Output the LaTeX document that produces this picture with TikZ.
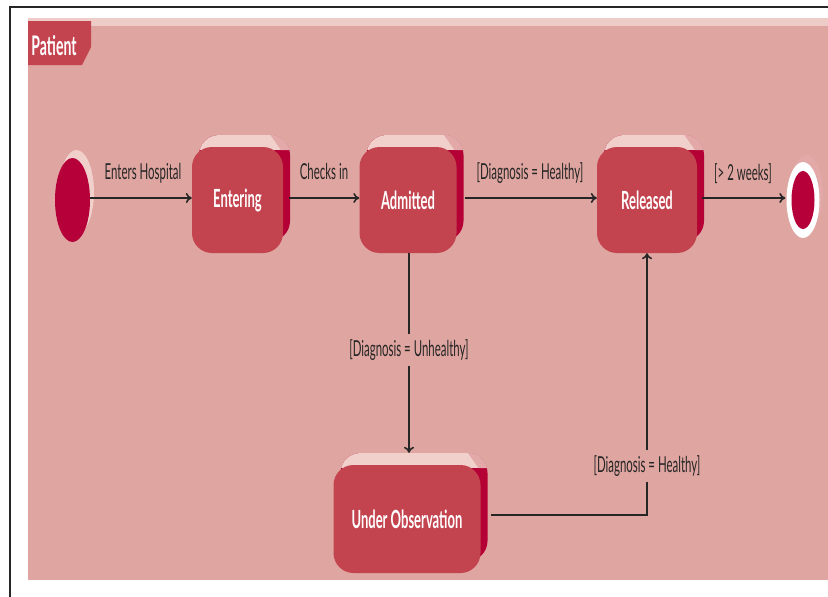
\documentclass[tikz,border=0pt]{standalone}
\usepackage{fontspec}
\setmainfont{Lato}[FakeStretch=0.52]
\usetikzlibrary{arrows.meta,shapes.geometric}

\definecolor{panelpink}{HTML}{DFA5A0}
\definecolor{panellight}{HTML}{EECDC8}
\definecolor{boxred}{HTML}{C3444F}
\definecolor{sidedark}{HTML}{B40034}
\definecolor{toplight}{HTML}{F1CFCB}
\definecolor{topmid}{HTML}{E3A9A9}
\definecolor{dotred}{HTML}{B5003A}
\definecolor{inkgray}{HTML}{262626}

% extruded state box: name, centre x, centre y, width, height, label
\newcommand\threedbox[6]{%
  \pgfmathsetmacro\bxa{#2-#4/2}%
  \pgfmathsetmacro\bxb{#2+#4/2}%
  \pgfmathsetmacro\bya{#3-#5/2}%
  \pgfmathsetmacro\byb{#3+#5/2}%
  \begin{scope}
    \clip[rounded corners=20pt] (\bxa+7,\bya-12) rectangle (\bxb+7,\byb-12);
    \fill[sidedark] (\bxa,\bya-14) rectangle (\bxb+9,\byb);
    \fill[toplight] (\bxa,\bya-14) rectangle (\bxb+9,\bya+3);
    \fill[topmid] (\bxb-14,\bya-14) -- (\bxb+9,\bya-14) -- (\bxb+9,\bya+3) -- (\bxb-2,\bya+3) -- cycle;
  \end{scope}
  \node[statebox, minimum width=#4, minimum height=#5] (#1) at (#2,#3) {#6};
}

\begin{document}
\begin{tikzpicture}[x=1pt,y=-1pt,
  statebox/.style={rectangle, rounded corners=20pt, fill=boxred, text=white,
    font=\fontsize{25}{27}\selectfont\bfseries, inner sep=0pt},
  guard/.style={text=inkgray, font=\fontsize{22}{24}\selectfont, inner sep=1pt},
  gapguard/.style={guard, fill=panelpink, inner xsep=1pt, inner ysep=6pt},
  flow/.style={draw=inkgray, line width=1.6pt, -{To[length=6pt,width=10pt]}},
]
\useasboundingbox (0,0) rectangle (828,597);
\fill[white] (0,0) rectangle (828,597);

% outer frame
\draw[line width=2pt, black!85] (10,597) -- (10,7) -- (828,7);

% swimlane panel
\fill[panellight] (28,18) rectangle (828,580);
\fill[panelpink] (28,26) rectangle (828,580);

% lane tab
\fill[boxred] (28,65) -- (28,21) -- (91,21) -- (91,47) -- (82,65) -- cycle;
\node[text=white, font=\fontsize{27}{29}\selectfont\bfseries, anchor=base, inner sep=0pt] (patient) at (54,55) {Patient};

% initial state
\fill[toplight] (76.5,192) ellipse [x radius=17.5, y radius=42];
\node[ellipse, fill=dotred, minimum width=35pt, minimum height=84pt, inner sep=0pt] (start) at (72.5,200) {};

% final state
\fill[topmid] (806.5,193) ellipse [x radius=16.5, y radius=38];
\node[ellipse, fill=white, minimum width=33pt, minimum height=76pt, inner sep=0pt] (stop) at (803,200) {};
\node[ellipse, fill=dotred, minimum width=23pt, minimum height=58pt, inner sep=0pt] (stopdot) at (803,200) {};

% states
\threedbox{entering}{237.5}{200}{91}{106}{Entering}
\threedbox{admitted}{408}{200}{97}{106}{Admitted}
\threedbox{released}{647}{200}{100}{106}{Released}
\threedbox{under}{407}{519}{147}{108}{Under Observation}

% transitions along the main row
\draw[flow] ([yshift=2pt]start.east) -- ([yshift=2pt]entering.west);
\draw[flow] ([xshift=6pt,yshift=2pt]entering.east) -- ([yshift=2pt]admitted.west);
\draw[flow] ([xshift=8pt,yshift=2pt]admitted.east) -- ([yshift=2pt]released.west);
\draw[flow] ([xshift=5pt,yshift=2pt]released.east) -- ([xshift=-1pt,yshift=2pt]stop.west);

\node[guard, anchor=base] (lblenter) at (143,179) {Enters Hospital};
\node[guard, anchor=base] (lblcheck) at (324,179) {Checks in};
\node[guard, anchor=base] (lblhealthy) at (530,179) {[Diagnosis = Healthy]};
\node[guard, anchor=base] (lblweeks) at (743,180) {[> 2 weeks]};

% admitted -> under observation
\coordinate (undertop) at ([yshift=12pt]under.north);
\draw[flow] ([xshift=1pt]admitted.south) -- ([xshift=1pt]admitted.south |- undertop);
\node[gapguard] (lblunhealthy) at (409,350) {[Diagnosis = Unhealthy]};

% under observation -> released
\draw[flow] ([xshift=10pt,yshift=4pt]under.east) -| (released.south);
\node[gapguard] (lblrecover) at (647,466) {[Diagnosis = Healthy]};
\end{tikzpicture}
\end{document}
